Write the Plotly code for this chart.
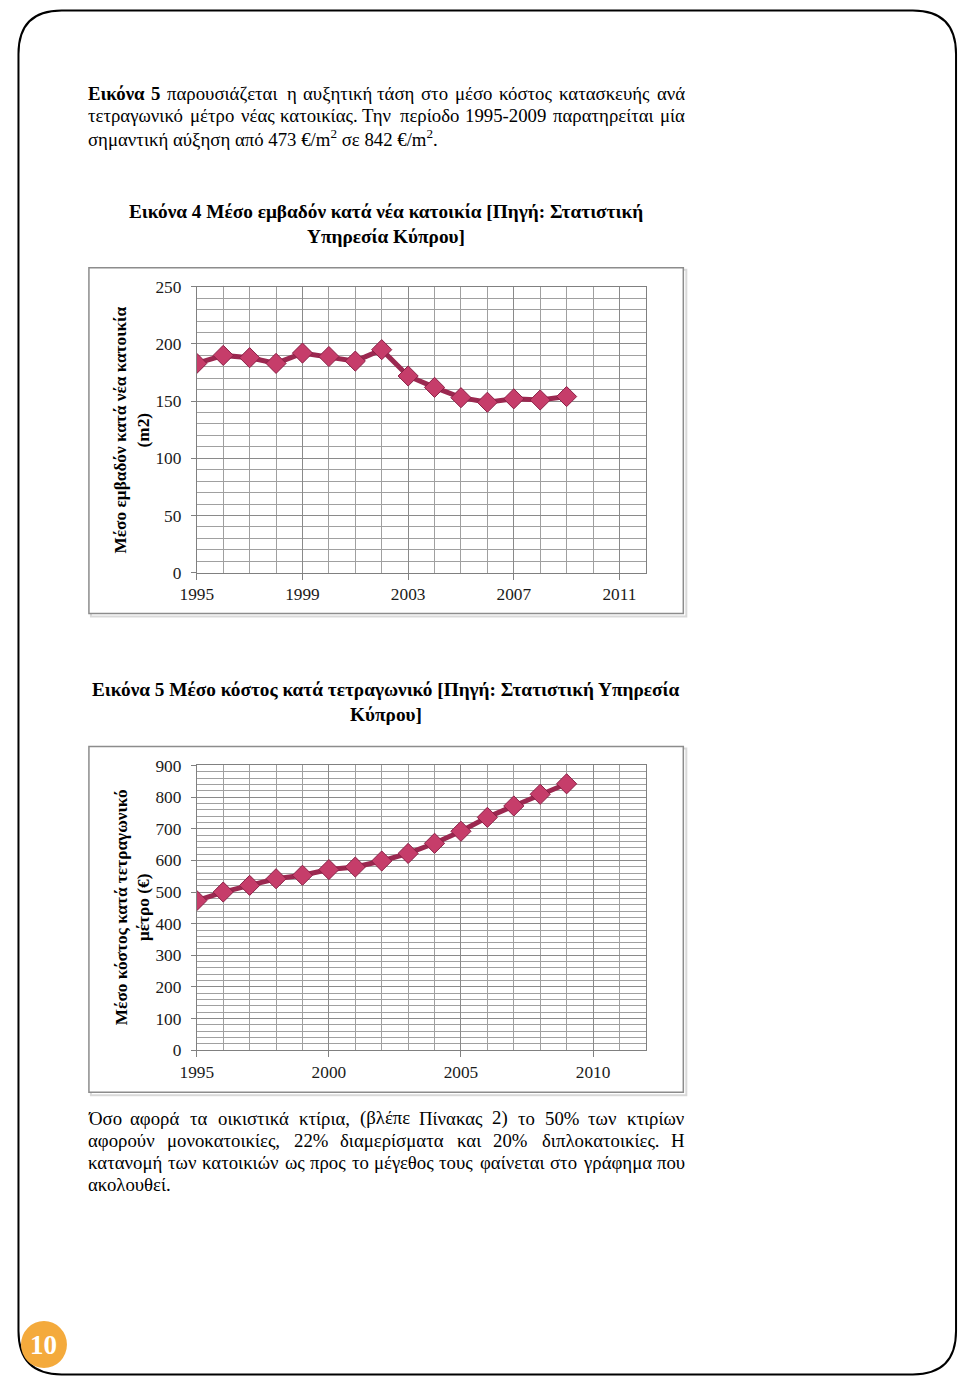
import unicodedata
import plotly.graph_objects as go

# ---------------- data ----------------
years = list(range(1995, 2010))
area_m2 = [183, 190, 188, 183, 192, 189, 185, 195, 172, 162, 153, 149, 152, 151, 154]
cost_eur = [473, 500, 521, 542, 553, 571, 579, 598, 622, 654, 692, 736, 772, 809, 842]

ytitle1 = "Μέσο εμβαδόν κατά νέα κατοικία<br>(m2)"
ytitle2 = "Μέσο κόστος κατά τετραγωνικό<br>μέτρο (€)"
caption1 = ["Εικόνα 4 Μέσο εμβαδόν κατά νέα κατοικία [Πηγή: Στατιστική", "Υπηρεσία Κύπρου]"]
caption2 = ["Εικόνα 5 Μέσο κόστος κατά τετραγωνικό [Πηγή: Στατιστική Υπηρεσία", "Κύπρου]"]
para1 = [
    [("Εικόνα", True), ("5", True)] + [(w, False) for w in "παρουσιάζεται η αυξητική τάση στο μέσο κόστος κατασκευής ανά".split()],
    [(w, False) for w in "τετραγωνικό μέτρο νέας κατοικίας. Την περίοδο 1995-2009 παρατηρείται μία".split()],
]
para1_last = "σημαντική αύξηση από 473 €/m<sup>2</sup> σε 842 €/m<sup>2</sup>."
para2 = [
    [(w, False) for w in "Όσο αφορά τα οικιστικά κτίρια, (βλέπε Πίνακας 2) το 50% των κτιρίων".split()],
    [(w, False) for w in "αφορούν μονοκατοικίες, 22% διαμερίσματα και 20% διπλοκατοικίες. Η".split()],
    [(w, False) for w in "κατανομή των κατοικιών ως προς το μέγεθος τους φαίνεται στο γράφημα που".split()],
]
para2_last = "ακολουθεί."
page_no = "10"

# ---------------- layout helpers ----------------
W, H = 960, 1386
FONT = "Liberation Serif"
# page placement of the figure as it ends up in the photographed page
SX, OX = 0.9833, 16.0
SY, OY = 0.987, 8.0
TEXT_SIZE = 18.8


def fx(t):
    return (t - OX) / SX


def fy(t):
    return (t - OY) / SY


def px(t):
    return fx(t) / W


def py(t):
    return 1 - fy(t) / H


CW = {
    'α': .53, 'β': .50, 'γ': .44, 'δ': .50, 'ε': .42, 'ζ': .43, 'η': .50, 'θ': .48, 'ι': .28,
    'κ': .49, 'λ': .48, 'μ': .55, 'ν': .44, 'ξ': .44, 'ο': .50, 'π': .54, 'ρ': .50, 'σ': .53,
    'ς': .42, 'τ': .43, 'υ': .48, 'φ': .62, 'χ': .47, 'ψ': .66, 'ω': .68,
    'Ε': .61, 'Τ': .61, 'Υ': .72, 'Ο': .72, 'Π': .72, 'Η': .72, 'Κ': .72, 'Μ': .89, 'Σ': .60,
    'Ι': .33, 'm': .78, 'i': .28, 'l': .28, ' ': .25, '.': .25, ',': .25, '-': .33, '(': .33,
    ')': .33, '[': .33, ']': .33, ':': .28, '%': .83, '€': .50,
}


def tw(s, size, bold=False):
    t = 0
    for ch in s:
        b = unicodedata.normalize('NFD', ch)[0]
        if b in CW:
            t += CW[b]
        elif b.isdigit():
            t += .5
        elif b.isupper():
            t += .68
        else:
            t += .47
    return t * size * (1.05 if bold else 1) * 1.02 * SX


annotations = []


def add_text(text, x, y, xanchor="left", size=TEXT_SIZE, bold=False, color="black", angle=0):
    annotations.append(dict(
        text=f"<b>{text}</b>" if bold else text, x=px(x), y=py(y), xref="paper", yref="paper",
        xanchor=xanchor, yanchor="middle", showarrow=False, textangle=angle,
        font=dict(family=FONT, size=size, color=color)))


def justified(words, y, left=86, right=686):
    widths = [tw(w, TEXT_SIZE, b) for w, b in words]
    n = len(words)
    gap = max((right - left - sum(widths)) / (n - 1), 2)
    half = n // 2
    x = left
    for i in range(half):
        add_text(words[i][0], x - 1, y, bold=words[i][1])
        x += widths[i] + gap
    x = right
    for i in range(n - 1, half - 1, -1):
        add_text(words[i][0], x + 1, y, xanchor="right", bold=words[i][1])
        x -= widths[i] + gap


# ---------------- figure ----------------
LINE = "#9B2850"
MARK = "#C63D6A"
GRID = "#a0a0a0"
GRID_MAJ = "#8a8a8a"

fig = go.Figure()
for vals, xa, ya in [(area_m2, "x", "y"), (cost_eur, "x2", "y2")]:
    fig.add_trace(go.Scatter(
        x=years, y=vals, mode="lines+markers", xaxis=xa, yaxis=ya,
        line=dict(color=LINE, width=5),
        marker=dict(symbol="diamond", size=15.5, color=MARK, line=dict(color="#8a2046", width=1))))

tickfont = dict(family=FONT, size=17.3, color="#1a1a1a")
xdom = [px(196), px(645.5)]


def xaxis(dtick, anchor):
    return dict(domain=xdom, range=[1995, 2012], tick0=1995, dtick=dtick, anchor=anchor,
                showgrid=True, gridcolor=GRID_MAJ, gridwidth=1,
                minor=dict(dtick=1, tick0=1995, showgrid=True, gridcolor=GRID, gridwidth=1),
                ticks="outside", ticklen=6, tickcolor="#808080",
                showline=True, linecolor="#808080", linewidth=1, mirror=True,
                zeroline=False, tickfont=tickfont, ticklabelstandoff=0, fixedrange=True)


def yaxis(rng, dtick, mdtick, dom, anchor):
    return dict(domain=dom, range=rng, dtick=dtick, anchor=anchor,
                showgrid=True, gridcolor=GRID_MAJ, gridwidth=1,
                minor=dict(dtick=mdtick, showgrid=True, gridcolor=GRID, gridwidth=1),
                ticks="outside", ticklen=5, tickcolor="#808080",
                showline=True, linecolor="#808080", linewidth=1, mirror=True,
                zeroline=False, tickfont=tickfont, ticklabelstandoff=6, fixedrange=True)


shapes = []
# page border (rounded), kept inside the drawable figure
bx0, bx1 = max(fx(3), 1.5) / W, min(fx(956), W - 1.5) / W
by_top, by_bot = 1 - max(fy(3), 1.5) / H, 1 - min(fy(1382), H - 1.5) / H
rx, ry = 44 / W, 44 / H
path = (f"M {bx0+rx},{by_top} L {bx1-rx},{by_top} Q {bx1},{by_top} {bx1},{by_top-ry} "
        f"L {bx1},{by_bot+ry} Q {bx1},{by_bot} {bx1-rx},{by_bot} L {bx0+rx},{by_bot} "
        f"Q {bx0},{by_bot} {bx0},{by_bot+ry} L {bx0},{by_top-ry} Q {bx0},{by_top} {bx0+rx},{by_top} Z")
shapes.append(dict(type="path", path=path, xref="paper", yref="paper",
                   line=dict(color="black", width=2), layer="below"))
# chart boxes with light shadow
for top, bot in [(267, 613), (746, 1092)]:
    shapes.append(dict(type="rect", xref="paper", yref="paper", x0=px(90), x1=px(686),
                       y0=py(bot + 3), y1=py(top + 2), line=dict(color="#d9d9d9", width=2),
                       layer="below"))
    shapes.append(dict(type="rect", xref="paper", yref="paper", x0=px(88), x1=px(683),
                       y0=py(bot), y1=py(top), line=dict(color="#8c8c8c", width=1.5),
                       fillcolor="white", layer="below"))
# page number circle
shapes.append(dict(type="circle", xref="paper", yref="paper", x0=px(20), x1=px(66),
                   y0=py(1368), y1=py(1321), fillcolor="#F4AA3C", line=dict(width=0)))

# text
justified(para1[0], 93)
justified(para1[1], 115)
add_text(para1_last, 85, 137)
add_text(caption1[0], 385, 211, xanchor="center", size=19.3, bold=True)
add_text(caption1[1], 385, 236, xanchor="center", size=19.3, bold=True)
add_text(caption2[0], 385, 689, xanchor="center", size=19.3, bold=True)
add_text(caption2[1], 385, 714, xanchor="center", size=19.3, bold=True)
justified(para2[0], 1118)
justified(para2[1], 1140)
justified(para2[2], 1162)
add_text(para2_last, 85, 1184)
add_text(ytitle1, 131, 429, xanchor="center", size=17.3, bold=True, angle=-90)
add_text(ytitle2, 131, 907, xanchor="center", size=17.3, bold=True, angle=-90)
add_text(page_no, 43, 1345, xanchor="center", size=27, bold=True, color="white")

fig.update_layout(
    width=W, height=H, margin=dict(l=0, r=0, t=0, b=0),
    paper_bgcolor="white", plot_bgcolor="white", showlegend=False,
    xaxis=xaxis(4, "y"),
    yaxis=yaxis([0, 250], 50, 10, [py(572), py(286)], "x"),
    xaxis2=xaxis(5, "y2"),
    yaxis2=yaxis([0, 900], 100, 20, [py(1050), py(765)], "x2"),
    shapes=shapes, annotations=annotations,
)

fig.write_html("out.html", config={"displayModeBar": False, "responsive": False},
               post_script="document.body.style.margin='0';document.body.style.overflow='hidden';")
